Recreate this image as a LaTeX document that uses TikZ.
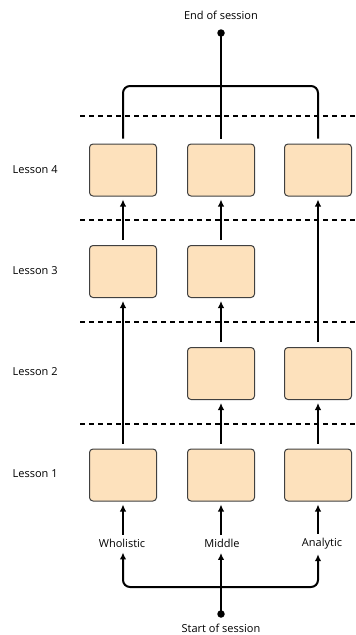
\documentclass[tikz,border=0pt]{standalone}
\usepackage{fontspec}
\setmainfont{Open Sans}
\usetikzlibrary{arrows.meta}
\definecolor{boxfill}{RGB}{253,225,188}
\definecolor{boxline}{RGB}{64,64,64}
\tikzset{
  lbox/.style={draw=boxline, fill=boxfill, line width=1pt, rounded corners=3.5pt, minimum width=67pt, minimum height=52pt, inner sep=0pt},
  conn/.style={line width=2pt, black},
  arr/.style={conn, -{Latex[length=7pt,width=6.5pt]}},
  sep/.style={line width=1.4pt, dash pattern=on 5pt off 4pt},
  txt/.style={font=\fontsize{11}{13}\selectfont, inner sep=0pt},
  dot/.style={circle, fill=black, minimum size=7.5pt, inner sep=0pt}
}
\begin{document}
\begin{tikzpicture}[x=1pt,y=-1pt]
\useasboundingbox (0,0) rectangle (356,635);
% separators
\foreach \yy/\nm in {116/s0,220/s1,322/s2,424/s3}
  \draw[sep] (80,\yy) coordinate (\nm a) -- (356,\yy) coordinate (\nm b);
% lesson labels
\node[txt, anchor=west] (t4) at (12.5,170) {Lesson 4};
\node[txt, anchor=west] (t3) at (12.5,271) {Lesson 3};
\node[txt, anchor=west] (t2) at (12.5,372) {Lesson 2};
\node[txt, anchor=west] (t1) at (12.5,474) {Lesson 1};
% boxes
\node[lbox] (b4l) at (123,170) {};
\node[lbox] (b4m) at (221,170) {};
\node[lbox] (b4r) at (318,170) {};
\node[lbox] (b3l) at (123,271.5) {};
\node[lbox] (b3m) at (221,271.5) {};
\node[lbox] (b2m) at (221,373.5) {};
\node[lbox] (b2r) at (318,373.5) {};
\node[lbox] (b1l) at (123,475) {};
\node[lbox] (b1m) at (221,475) {};
\node[lbox] (b1r) at (318,475) {};
% style labels
\node[txt] (wl) at (122,543) {Wholistic};
\node[txt] (ml) at (222,543.5) {Middle};
\node[txt] (al) at (322,543.5) {Analytic};
% end / start
\node[txt] (endt) at (221,15) {End of session};
\node[dot] (enddot) at (221,33) {};
\node[dot] (startdot) at (221,614) {};
\node[txt] (startt) at (221,628) {Start of session};
% top connector
\coordinate (jl) at (123,86);
\coordinate (jr) at (318,86);
\draw[conn, rounded corners=7pt, shorten <=5pt, shorten >=5pt] (b4l.north) -- (jl) -- (jr) -- (b4r.north);
\draw[conn, shorten <=5pt] (b4m.north) -- (enddot.center);
% arrows between lessons
\draw[arr, shorten <=5pt, shorten >=3pt] (b3l.north) -- (b4l.south);
\draw[arr, shorten <=5pt, shorten >=3pt] (b3m.north) -- (b4m.south);
\draw[arr, shorten <=5pt, shorten >=3pt] (b2r.north) -- (b4r.south);
\draw[arr, shorten <=5pt, shorten >=3pt] (b1l.north) -- (b3l.south);
\draw[arr, shorten <=5pt, shorten >=3pt] (b2m.north) -- (b3m.south);
\draw[arr, shorten <=5pt, shorten >=3pt] (b1m.north) -- (b2m.south);
\draw[arr, shorten <=5pt, shorten >=3pt] (b1r.north) -- (b2r.south);
% labels to lesson 1
\draw[arr, shorten <=4pt, shorten >=3pt] (wl.north -| b1l.south) -- (b1l.south);
\draw[arr, shorten <=4pt, shorten >=3pt] (ml.north -| b1m.south) -- (b1m.south);
\draw[arr, shorten <=4pt, shorten >=3pt] (al.north -| b1r.south) -- (b1r.south);
% bottom connector
\coordinate (bl) at (123,587);
\coordinate (br) at (318,587);
\coordinate (wlt) at (wl.south -| bl);
\coordinate (alt) at (al.south -| br);
\draw[conn, {Latex[length=7pt,width=6.5pt]}-{Latex[length=7pt,width=6.5pt]}, rounded corners=7pt, shorten <=5pt, shorten >=5pt] (wlt) -- (bl) -- (br) -- (alt);
\draw[arr, shorten >=5pt] (startdot.center) -- (ml.south -| startdot);
\end{tikzpicture}
\end{document}
